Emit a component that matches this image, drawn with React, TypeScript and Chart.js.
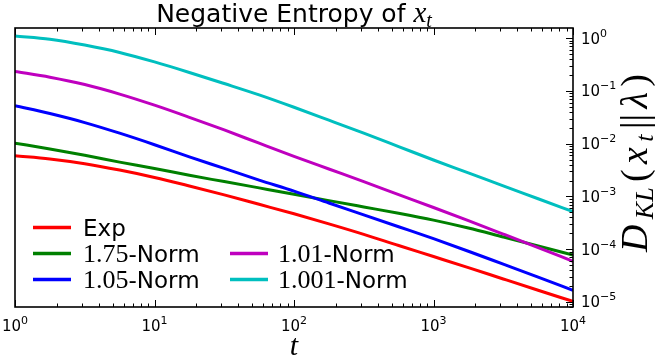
import React, { useEffect, useRef } from 'react';
import { Chart, registerables } from 'chart.js';

Chart.register(...registerables);

// ---- data ----
const tValues = [1, 1.778, 3.162, 5.623, 10, 17.78, 31.62, 56.23, 100, 177.8, 316.2, 562.3, 1000, 1778, 3162, 5623, 10000];
const expValues = [
  0.00589, 0.00513, 0.00417, 0.00316, 0.00229, 0.00158, 0.00107, 0.000708, 0.000468,
  0.000302, 0.000191, 0.000117, 0.0000724, 0.0000447, 0.0000272, 0.0000166, 0.0000102,
];
const norm175Values = [
  0.0102, 0.00794, 0.00603, 0.00447, 0.00339, 0.00251, 0.00191, 0.00145, 0.0011,
  0.000832, 0.000631, 0.000479, 0.000355, 0.000251, 0.00017, 0.000115, 0.0000776,
];
const norm105Values = [
  0.0525, 0.0372, 0.0251, 0.0158, 0.00955, 0.00562, 0.00339, 0.00204, 0.00126,
  0.00075, 0.000447, 0.000266, 0.000158, 0.0000912, 0.0000519, 0.0000295, 0.0000166,
];
const norm101Values = [
  0.234, 0.182, 0.132, 0.0871, 0.0537, 0.0316, 0.0182, 0.0102, 0.00575,
  0.00331, 0.00191, 0.00108, 0.000617, 0.000347, 0.000193, 0.000107, 0.0000589,
];
const norm1001Values = [
  1.1, 0.955, 0.741, 0.537, 0.355, 0.224, 0.138, 0.0841, 0.049,
  0.0279, 0.0158, 0.00881, 0.0049, 0.00279, 0.00158, 0.000902, 0.000513,
];

const seriesLabels = ['Exp', '1.75-Norm', '1.05-Norm', '1.01-Norm', '1.001-Norm'];
const seriesColors = ['#ff0000', '#008000', '#0000ff', '#bf00bf', '#00bfbf'];
const seriesValues = [expValues, norm175Values, norm105Values, norm101Values, norm1001Values];

const xTickValues = [1, 10, 100, 1000, 10000];
const xTickExponents = ['0', '1', '2', '3', '4'];
const yTickValues = [1e-5, 1e-4, 1e-3, 1e-2, 1e-1, 1];
const yTickExponents = ['−5', '−4', '−3', '−2', '−1', '0'];
const xMin = 1;
const xMax = 10000;
const yMin = 8e-6;
const yMax = 1.56;

const titleText = 'Negative Entropy of ';

const SANS = "'DejaVu Sans'";
const SERIF = "'Liberation Serif'";

type Piece = { text: string; font: string; dy?: number };

function drawRich(
  ctx: CanvasRenderingContext2D,
  pieces: Piece[],
  x: number,
  y: number,
  align: 'left' | 'center',
  targetWidth?: number
) {
  let total = 0;
  const widths = pieces.map((p) => {
    ctx.font = p.font;
    const w = ctx.measureText(p.text).width;
    total += w;
    return w;
  });
  let gap = 0;
  if (targetWidth && pieces.length > 1 && targetWidth > total) {
    gap = (targetWidth - total) / (pieces.length - 1);
    total = targetWidth;
  }
  let cx = align === 'center' ? x - total / 2 : x;
  ctx.textAlign = 'left';
  ctx.textBaseline = 'alphabetic';
  pieces.forEach((p, i) => {
    ctx.font = p.font;
    ctx.fillText(p.text, cx, y + (p.dy || 0));
    cx += widths[i] + gap;
  });
}

function powPieces(exp: string): Piece[] {
  return [
    { text: '10', font: `15px ${SANS}` },
    { text: exp, font: `11px ${SANS}`, dy: -7 },
  ];
}

function legendPieces(label: string): Piece[] {
  const idx = label.indexOf('-');
  if (idx < 0) return [{ text: label, font: `23px ${SANS}` }];
  return [
    { text: label.slice(0, idx), font: `26px ${SERIF}` },
    { text: label.slice(idx), font: `23px ${SANS}` },
  ];
}

const decorPlugin = {
  id: 'decor',
  afterDatasetsDraw(chart: any) {
    const { ctx, chartArea: a, scales } = chart;
    const xs = scales.x;
    const ys = scales.y;
    ctx.save();
    ctx.strokeStyle = '#000';
    ctx.fillStyle = '#000';
    ctx.lineWidth = 1;
    const seg = (x1: number, y1: number, x2: number, y2: number) => {
      ctx.beginPath();
      ctx.moveTo(x1, y1);
      ctx.lineTo(x2, y2);
      ctx.stroke();
    };
    // x ticks (top and bottom, inward)
    for (let e = 0; e <= 4; e++) {
      for (let m = 1; m <= 9; m++) {
        const v = m * Math.pow(10, e);
        if (v < xMin || v > xMax) continue;
        const px = Math.round(xs.getPixelForValue(v)) + 0.5;
        const len = m === 1 ? 7 : 3.5;
        seg(px, a.bottom, px, a.bottom - len);
        seg(px, a.top, px, a.top + len);
      }
    }
    // y ticks (right, inward)
    for (let e = -6; e <= 0; e++) {
      for (let m = 1; m <= 9; m++) {
        const v = m * Math.pow(10, e);
        if (v < yMin || v > yMax) continue;
        const py = Math.round(ys.getPixelForValue(v)) + 0.5;
        const len = m === 1 ? 7 : 3.5;
        seg(a.right, py, a.right - len, py);
      }
    }
    // frame
    ctx.lineWidth = 1.6;
    ctx.strokeRect(a.left, a.top, a.right - a.left, a.bottom - a.top);

    // tick labels
    ctx.fillStyle = '#000';
    xTickValues.forEach((v, i) => {
      const px = xs.getPixelForValue(v);
      drawRich(ctx, powPieces(xTickExponents[i]), px, 331, 'center');
    });
    yTickValues.forEach((v, i) => {
      const py = ys.getPixelForValue(v);
      drawRich(ctx, powPieces(yTickExponents[i]), a.right + 8, py + 5.5, 'left');
    });

    // title
    const cxPlot = (a.left + a.right) / 2;
    drawRich(
      ctx,
      [
        { text: titleText, font: `25px ${SANS}` },
        { text: 'x', font: `italic 29px ${SERIF}` },
        { text: 't', font: `italic 20px ${SERIF}`, dy: 5 },
      ],
      cxPlot,
      22,
      'center'
    );

    // x axis title
    drawRich(ctx, [{ text: 't', font: `italic 30px ${SERIF}` }], cxPlot, 355, 'center');

    // y axis title (rotated)
    ctx.save();
    ctx.translate(647, 163);
    ctx.rotate(-Math.PI / 2);
    drawRich(
      ctx,
      [
        { text: 'D', font: `italic 38px ${SERIF}` },
        { text: 'KL', font: `italic 26px ${SERIF}`, dy: 6 },
        { text: '(', font: `38px ${SERIF}` },
        { text: 'x', font: `italic 38px ${SERIF}` },
        { text: 't', font: `italic 26px ${SERIF}`, dy: 6 },
        { text: '||', font: `38px ${SERIF}` },
        { text: 'λ', font: `italic 38px ${SERIF}` },
        { text: ')', font: `38px ${SERIF}` },
      ],
      0,
      0,
      'center',
      178
    );
    ctx.restore();

    // legend
    const rowBase = [236, 262, 288];
    const cols = [
      { lineX: 33, textX: 83, items: [{ i: 0, r: 0 }, { i: 1, r: 1 }, { i: 2, r: 2 }] },
      { lineX: 230, textX: 278, items: [{ i: 3, r: 1 }, { i: 4, r: 2 }] },
    ];
    cols.forEach((c) => {
      c.items.forEach(({ i, r }) => {
        const base = rowBase[r];
        ctx.strokeStyle = seriesColors[i];
        ctx.lineWidth = 3.5;
        seg(c.lineX, base - 8.5, c.lineX + 38, base - 8.5);
        ctx.fillStyle = '#000';
        drawRich(ctx, legendPieces(seriesLabels[i]), c.textX, base, 'left');
      });
    });
    ctx.restore();
  },
};

export default function App() {
  const canvasRef = useRef<HTMLCanvasElement | null>(null);

  useEffect(() => {
    const canvas = canvasRef.current;
    if (!canvas) return;
    const datasets = seriesLabels.map((label, i) => ({
      label,
      data: tValues.map((t, j) => ({ x: t, y: seriesValues[i][j] })),
      borderColor: seriesColors[i],
      backgroundColor: seriesColors[i],
      borderWidth: 3,
      pointRadius: 0,
      fill: false,
      cubicInterpolationMode: 'monotone' as const,
      order: seriesLabels.length - i,
    }));
    const chart = new Chart(canvas, {
      type: 'line',
      data: { datasets },
      options: {
        animation: false,
        responsive: false,
        devicePixelRatio: 1,
        parsing: false,
        layout: { padding: { top: 28, left: 15, right: 0, bottom: 0 } },
        plugins: {
          legend: { display: false },
          title: { display: false },
          tooltip: { enabled: false },
        },
        scales: {
          x: {
            type: 'logarithmic',
            position: 'bottom',
            min: xMin,
            max: xMax,
            grid: { display: false, drawTicks: false },
            border: { display: false },
            ticks: { display: false },
            afterBuildTicks: (scale: any) => {
              scale.ticks = xTickValues.map((v) => ({ value: v }));
            },
            afterFit: (scale: any) => {
              scale.height = 51;
            },
          },
          y: {
            type: 'logarithmic',
            position: 'right',
            min: yMin,
            max: yMax,
            grid: { display: false, drawTicks: false },
            border: { display: false },
            ticks: { display: false },
            afterBuildTicks: (scale: any) => {
              scale.ticks = yTickValues.map((v) => ({ value: v }));
            },
            afterFit: (scale: any) => {
              scale.width = 82;
            },
          },
        },
      } as any,
      plugins: [decorPlugin],
    });
    return () => chart.destroy();
  }, []);

  return (
    <div style={{ position: 'fixed', left: 0, top: 0, width: 655, height: 358, background: '#fff' }}>
      <canvas ref={canvasRef} width={655} height={358} style={{ display: 'block', width: 655, height: 358 }} />
    </div>
  );
}
